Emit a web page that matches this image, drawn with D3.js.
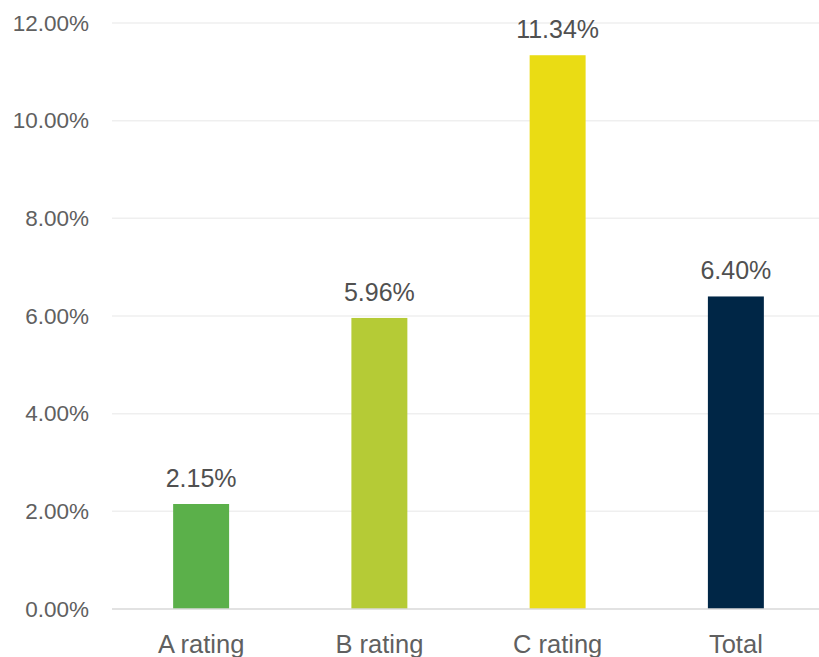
<!DOCTYPE html>
<html>
<head>
<meta charset="utf-8">
<script src="https://cdn.jsdelivr.net/npm/d3@7"></script>
<style>
  body { margin: 0; background: #fff; }
  svg { display: block; font-family: "Liberation Sans", Arial, sans-serif; }
</style>
</head>
<body>
<svg id="chart"></svg>
<script>
// chart data
const categories = ['A rating', 'B rating', 'C rating', 'Total'];
const values = [2.15, 5.96, 11.34, 6.40];
const barColors = ['#5bb04a', '#b5cb36', '#eadc14', '#002646'];
const yTicks = [0, 2, 4, 6, 8, 10, 12];

const w = 819, h = 657;
const m = { left: 112, right: 825, top: 23, bottom: 609 };

const svg = d3.select('#chart').attr('width', w).attr('height', h);

const x = d3.scaleBand().domain(categories).range([m.left, m.right]).paddingInner(0.686).paddingOuter(0.343);
const y = d3.scaleLinear().domain([0, 12]).range([m.bottom, m.top]);

// gridlines
svg.append('g').selectAll('line').data(yTicks.slice(1)).join('line')
    .attr('x1', m.left).attr('x2', w)
    .attr('y1', d => y(d)).attr('y2', d => y(d))
    .attr('stroke', '#efefef').attr('stroke-width', 1.5);

// y axis labels
const yAxis = d3.axisLeft(y).tickValues(yTicks).tickFormat(d => d.toFixed(2) + '%').tickSize(0).tickPadding(23);
const yg = svg.append('g').attr('transform', `translate(${m.left},0)`).call(yAxis);
yg.select('.domain').remove();
yg.selectAll('text').attr('font-size', 22.5).attr('fill', '#606060').attr('font-family', '"Liberation Sans", Arial, sans-serif');

// bars
svg.append('g').selectAll('rect').data(values).join('rect')
    .attr('x', (d, i) => x(categories[i]))
    .attr('width', x.bandwidth())
    .attr('y', d => y(d))
    .attr('height', d => y(0) - y(d))
    .attr('fill', (d, i) => barColors[i]);

// baseline
svg.append('line').attr('x1', m.left).attr('x2', w).attr('y1', y(0)).attr('y2', y(0))
    .attr('stroke', '#d9d9d9').attr('stroke-width', 1.5);

// value labels
svg.append('g').selectAll('text').data(values).join('text')
    .attr('x', (d, i) => x(categories[i]) + x.bandwidth() / 2)
    .attr('y', d => y(d) - 17)
    .attr('text-anchor', 'middle')
    .attr('font-size', 25).attr('fill', '#505050')
    .text(d => d.toFixed(2) + '%');

// x axis labels (the reference crops them at the bottom edge)
const xAxis = d3.axisBottom(x).tickSize(0);
const xg = svg.append('g').attr('transform', `translate(0,${m.bottom})`).call(xAxis);
xg.select('.domain').remove();
xg.selectAll('text').attr('y', 44).attr('dy', 0)
    .attr('font-size', 25.5).attr('fill', '#606060').attr('font-family', '"Liberation Sans", Arial, sans-serif');
</script>
</body>
</html>
